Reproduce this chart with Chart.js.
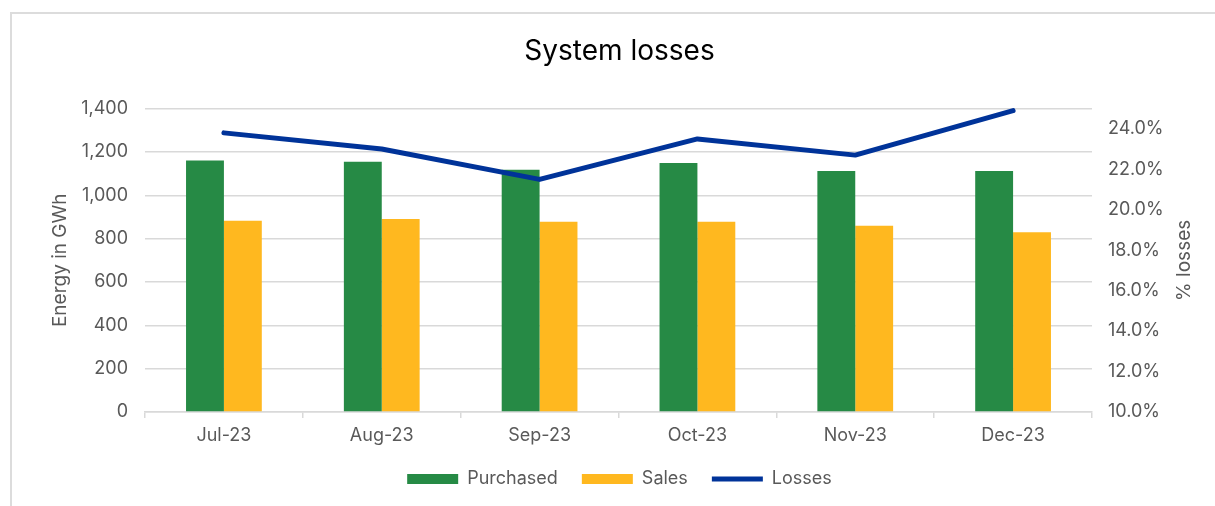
<!DOCTYPE html>
<html>
<head>
<meta charset="utf-8">
<script src="https://cdn.jsdelivr.net/npm/chart.js@4"></script>
<style>
  html, body { margin: 0; padding: 0; background: #fff; }
  .wrap { position: relative; width: 1215px; height: 506px; }
  .frame {
    position: absolute; left: 10px; top: 12px; right: 0; bottom: 0;
    border-top: 2px solid #dcdcdc; border-left: 2px solid #dcdcdc;
    pointer-events: none;
  }
</style>
</head>
<body>
<div class="wrap">
  <canvas id="lossChart" width="1215" height="506"></canvas>
  <div class="frame"></div>
</div>
<script>
// Data
const categories = ["Jul-23", "Aug-23", "Sep-23", "Oct-23", "Nov-23", "Dec-23"];
const purchased = [1160, 1155, 1118, 1149, 1112, 1112];
const sales = [883, 890, 878, 878, 860, 830];
const lossesPct = [23.8, 23.0, 21.5, 23.5, 22.7, 24.9];
const energyTicks = [0, 200, 400, 600, 800, 1000, 1200, 1400];
const lossTicks = [10, 12, 14, 16, 18, 20, 22, 24];

const textGrey = "#595959";
const gridGrey = "#d9d9d9";
const fontFamily = "Inter, 'Open Sans', sans-serif";

// Both axis titles read bottom-to-top, so draw them by hand
const axisTitles = {
  id: "axisTitles",
  afterDraw(chart) {
    const ctx = chart.ctx;
    const midY = (chart.chartArea.top + chart.chartArea.bottom) / 2;
    ctx.save();
    ctx.fillStyle = textGrey;
    ctx.font = "19px " + fontFamily;
    ctx.textAlign = "center";
    ctx.textBaseline = "middle";
    [["Energy in GWh", 60], ["% losses", 1184]].forEach(([txt, x]) => {
      ctx.save();
      ctx.translate(x, midY);
      ctx.rotate(-Math.PI / 2);
      ctx.fillText(txt, 0, 0);
      ctx.restore();
    });
    ctx.restore();
  }
};

new Chart(document.getElementById("lossChart"), {
  data: {
    labels: categories,
    datasets: [
      {
        type: "bar",
        label: "Purchased",
        data: purchased,
        backgroundColor: "#268a45",
        pointStyle: "rect",
        yAxisID: "y",
        order: 2
      },
      {
        type: "bar",
        label: "Sales",
        data: sales,
        backgroundColor: "#ffb81f",
        pointStyle: "rect",
        yAxisID: "y",
        order: 2
      },
      {
        type: "line",
        label: "Losses",
        data: lossesPct,
        borderColor: "#003399",
        backgroundColor: "#003399",
        borderWidth: 5,
        borderCapStyle: "round",
        borderJoinStyle: "round",
        pointRadius: 0,
        pointStyle: "line",
        tension: 0,
        clip: false,
        yAxisID: "y1",
        order: 1
      }
    ]
  },
  options: {
    responsive: false,
    animation: false,
    datasets: {
      bar: { barPercentage: 1, categoryPercentage: 0.48 }
    },
    layout: { padding: { left: 24, right: 0, top: 0, bottom: 8 } },
    plugins: {
      title: {
        display: true,
        text: "System losses",
        color: "#000",
        font: { family: fontFamily, size: 28, weight: "normal" },
        padding: { top: 35, bottom: 40 }
      },
      legend: {
        position: "bottom",
        labels: {
          usePointStyle: true,
          pointStyleWidth: 51,
          boxHeight: 10,
          padding: 24,
          color: textGrey,
          font: { family: fontFamily, size: 18 },
          sort: (a, b) => a.datasetIndex - b.datasetIndex
        }
      },
      tooltip: { enabled: false }
    },
    scales: {
      x: {
        offset: true,
        grid: {
          display: true,
          offset: true,
          drawOnChartArea: false,
          drawTicks: true,
          tickLength: 6,
          color: gridGrey,
          lineWidth: 1.5
        },
        border: { display: true, color: gridGrey, width: 1.5 },
        ticks: { color: textGrey, font: { family: fontFamily, size: 18 }, padding: 7 },
        afterFit: (scale) => { scale.height = 34; }
      },
      y: {
        position: "left",
        min: 0,
        max: 1400,
        afterBuildTicks: (scale) => { scale.ticks = energyTicks.map(v => ({ value: v })); },
        grid: { color: gridGrey, lineWidth: 1.5, drawTicks: false },
        border: { display: false },
        ticks: {
          color: textGrey,
          font: { family: fontFamily, size: 18 },
          padding: 17,
          callback: (v) => v.toLocaleString("en-US")
        },
        afterFit: (scale) => { scale.width = 121; }
      },
      y1: {
        position: "right",
        min: 10,
        max: 25,
        afterBuildTicks: (scale) => { scale.ticks = lossTicks.map(v => ({ value: v })); },
        grid: { display: false, drawTicks: false },
        border: { display: false },
        ticks: {
          color: textGrey,
          font: { family: fontFamily, size: 18 },
          padding: 16,
          callback: (v) => v.toFixed(1) + "%"
        },
        afterFit: (scale) => { scale.width = 123; }
      }
    }
  },
  plugins: [axisTitles]
});
</script>
</body>
</html>
